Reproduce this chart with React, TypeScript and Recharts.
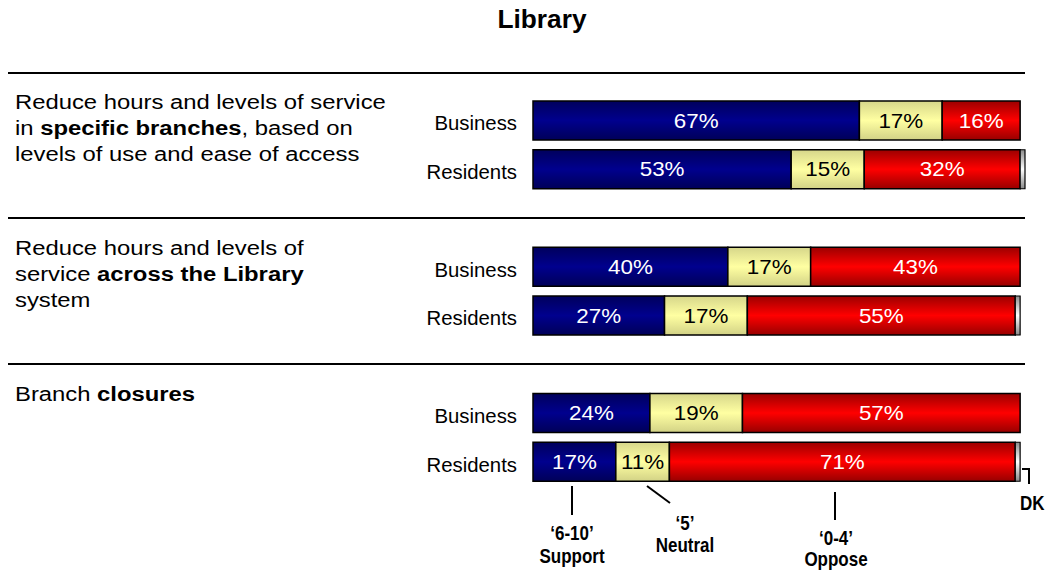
import React from 'react';
import { BarChart, Bar, XAxis, YAxis, LabelList } from 'recharts';

// rows: two per question, with an empty spacer row between the questions
const rowIds = ['b1', 'r1', 's1', 'b2', 'r2', 's2', 'b3', 'r3'];
const rowLabels = ['Business', 'Residents', '', 'Business', 'Residents', '', 'Business', 'Residents'];
const support = [67, 53, null, 40, 27, null, 24, 17];
const neutral = [17, 15, null, 17, 17, null, 19, 11];
const oppose = [16, 32, null, 43, 55, null, 57, 71];
const dontKnow = [null, 1, null, null, 1, null, null, 1];

const chartData = rowIds.map((id, i) => ({
  id,
  label: rowLabels[i],
  support: support[i],
  neutral: neutral[i],
  oppose: oppose[i],
  dk: dontKnow[i],
}));

const FONT = '"Liberation Sans", Arial, sans-serif';

// the original slide is stretched a little horizontally
const Stretch = ({
  x,
  y,
  sx = 1,
  anchor = 'start',
  size,
  weight = 'normal',
  fill = '#000',
  children,
}: {
  x: number;
  y: number;
  sx?: number;
  anchor?: 'start' | 'middle' | 'end';
  size: number;
  weight?: string;
  fill?: string;
  children: React.ReactNode;
}) => (
  <text
    transform={`translate(${x},${y}) scale(${sx},1)`}
    textAnchor={anchor}
    fontSize={size}
    fontWeight={weight}
    fontFamily={FONT}
    fill={fill}
  >
    {children}
  </text>
);

const makeLabel = (color: string) => (props: any) => {
  const { x, y, width, height, value } = props;
  if (value == null || width < 20) return null;
  return (
    <Stretch x={x + width / 2} y={y + height / 2 + 7} sx={1.12} anchor="middle" size={20} fill={color}>
      {`${value}%`}
    </Stretch>
  );
};

const RowTick = (props: any) => {
  const { x, y, payload } = props;
  const idx = rowIds.indexOf(payload.value);
  const text = rowLabels[idx];
  if (!text) return null;
  return (
    <Stretch x={x} y={y + 10} anchor="end" size={21} sx={0.97}>
      {text}
    </Stretch>
  );
};

const B = ({ children }: { children: React.ReactNode }) => <tspan fontWeight="bold">{children}</tspan>;

const Q_SX = 1.135;

export default function App() {
  return (
    <div style={{ position: 'absolute', left: 0, top: 0, width: 1045, height: 571, background: '#fff' }}>
      <BarChart
        width={1045}
        height={571}
        data={chartData}
        layout="vertical"
        margin={{ top: 96, right: 20, left: 0, bottom: 85 }}
        barSize={39}
        style={{ position: 'absolute', left: 0, top: 0 }}
      >
        <defs>
          <linearGradient id="gNavy" x1="0" y1="0" x2="0" y2="1">
            <stop offset="0" stopColor="#00005c" />
            <stop offset="0.5" stopColor="#00008e" />
            <stop offset="1" stopColor="#000058" />
          </linearGradient>
          <linearGradient id="gYellow" x1="0" y1="0" x2="0" y2="1">
            <stop offset="0" stopColor="#d6d68a" />
            <stop offset="0.5" stopColor="#ffffa2" />
            <stop offset="1" stopColor="#d2d286" />
          </linearGradient>
          <linearGradient id="gRed" x1="0" y1="0" x2="0" y2="1">
            <stop offset="0" stopColor="#9c0000" />
            <stop offset="0.5" stopColor="#ff0000" />
            <stop offset="1" stopColor="#980000" />
          </linearGradient>
          <linearGradient id="gDk" x1="0" y1="0" x2="0" y2="1">
            <stop offset="0" stopColor="#8a8a8a" />
            <stop offset="0.5" stopColor="#ffffff" />
            <stop offset="1" stopColor="#888888" />
          </linearGradient>
        </defs>
        <XAxis type="number" domain={[0, 101]} hide />
        <YAxis
          type="category"
          dataKey="id"
          width={533}
          axisLine={false}
          tickLine={false}
          tickSize={0}
          tickMargin={16}
          tick={<RowTick />}
          interval={0}
        />
        <Bar dataKey="support" stackId="a" fill="url(#gNavy)" stroke="#000" strokeWidth={1.5} isAnimationActive={false}>
          <LabelList dataKey="support" content={makeLabel('#fff')} />
        </Bar>
        <Bar dataKey="neutral" stackId="a" fill="url(#gYellow)" stroke="#000" strokeWidth={1.5} isAnimationActive={false}>
          <LabelList dataKey="neutral" content={makeLabel('#000')} />
        </Bar>
        <Bar dataKey="oppose" stackId="a" fill="url(#gRed)" stroke="#000" strokeWidth={1.5} isAnimationActive={false}>
          <LabelList dataKey="oppose" content={makeLabel('#fff')} />
        </Bar>
        <Bar dataKey="dk" stackId="a" fill="url(#gDk)" stroke="#000" strokeWidth={1.2} isAnimationActive={false} />
      </BarChart>

      <svg width={1045} height={571} style={{ position: 'absolute', left: 0, top: 0, pointerEvents: 'none' }}>
        <Stretch x={542} y={28} anchor="middle" size={25} weight="bold" sx={1.05}>
          Library
        </Stretch>

        {/* separators */}
        <line x1={8} x2={1025} y1={73} y2={73} stroke="#000" strokeWidth={2} />
        <line x1={8} x2={1025} y1={218} y2={218} stroke="#000" strokeWidth={2} />
        <line x1={8} x2={1025} y1={364} y2={364} stroke="#000" strokeWidth={2} />

        {/* question texts */}
        <Stretch x={15} y={109} size={21} sx={Q_SX}>Reduce hours and levels of service</Stretch>
        <Stretch x={15} y={135} size={21} sx={Q_SX}>
          in <B>specific branches</B>, based on
        </Stretch>
        <Stretch x={15} y={161} size={21} sx={Q_SX}>levels of use and ease of access</Stretch>

        <Stretch x={15} y={255} size={21} sx={Q_SX}>Reduce hours and levels of</Stretch>
        <Stretch x={15} y={281} size={21} sx={Q_SX}>
          service <B>across the Library</B>
        </Stretch>
        <Stretch x={15} y={307} size={21} sx={Q_SX}>system</Stretch>

        <Stretch x={15} y={401} size={21} sx={Q_SX}>
          Branch <B>closures</B>
        </Stretch>

        {/* legend call-outs */}
        <line x1={572} x2={572} y1={486} y2={515} stroke="#000" strokeWidth={2} />
        <line x1={647} x2={670} y1={486} y2={503} stroke="#000" strokeWidth={2} />
        <line x1={835} x2={835} y1={492} y2={520} stroke="#000" strokeWidth={2} />
        <polyline points="1022,469 1029,469 1029,484" fill="none" stroke="#000" strokeWidth={2} />

        <Stretch x={572} y={540} anchor="middle" size={20} weight="bold" sx={0.85}>‘6-10’</Stretch>
        <Stretch x={572} y={563} anchor="middle" size={20} weight="bold" sx={0.85}>Support</Stretch>
        <Stretch x={685} y={530} anchor="middle" size={20} weight="bold" sx={0.85}>‘5’</Stretch>
        <Stretch x={685} y={552} anchor="middle" size={20} weight="bold" sx={0.85}>Neutral</Stretch>
        <Stretch x={836} y={545} anchor="middle" size={20} weight="bold" sx={0.85}>‘0-4’</Stretch>
        <Stretch x={836} y={566} anchor="middle" size={20} weight="bold" sx={0.85}>Oppose</Stretch>
        <Stretch x={1020} y={510} size={20} weight="bold" sx={0.85}>DK</Stretch>
      </svg>
    </div>
  );
}
